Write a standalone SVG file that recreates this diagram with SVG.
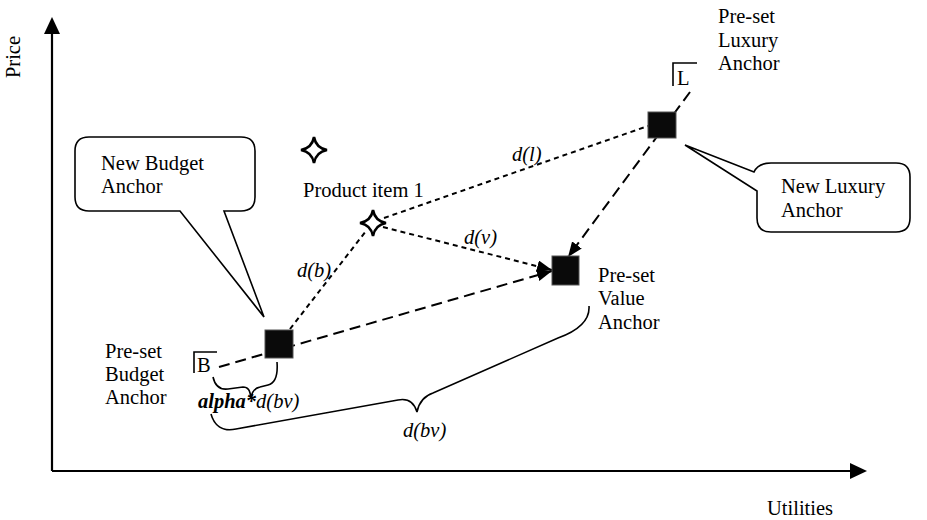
<svg xmlns="http://www.w3.org/2000/svg" width="927" height="520" viewBox="0 0 927 520">
<style>
text{font-family:"Liberation Serif","Times New Roman",serif;font-size:20.5px;fill:#000}
.it{font-style:italic}
.bi{font-style:italic;font-weight:bold}
.ax{stroke:#000;stroke-width:2.2;fill:none}
.long{stroke:#000;stroke-width:2;fill:none;stroke-dasharray:11 6}
.short{stroke:#000;stroke-width:2;fill:none;stroke-dasharray:5 4}
.thin{stroke:#000;stroke-width:1.6;fill:none}
.callout{stroke:#000;stroke-width:1.6;fill:#fff}
.anchor{fill:#0a0a0a;stroke:#555;stroke-width:1}
.star{fill:#fff;stroke:#000;stroke-width:2.6;stroke-linejoin:miter}
</style>
<defs>
<marker id="ah" markerUnits="userSpaceOnUse" markerWidth="16" markerHeight="12" refX="15" refY="6" orient="auto">
<path d="M0,0 L15,6 L0,12 z" fill="#000"/>
</marker>
<path id="starShape" d="M0,-13 Q2,-2 13,0 Q2,2 0,13 Q-2,2 -13,0 Q-2,-2 0,-13 Z"/>
</defs>

<g id="axes">
<line class="ax" x1="52" y1="471" x2="52" y2="32"/>
<polygon points="52,17 44,34 60,34" fill="#000"/>
<line class="ax" x1="52" y1="471" x2="851" y2="471"/>
<polygon points="867,471 850,463 850,479" fill="#000"/>
<text transform="translate(20,57) rotate(-90)" text-anchor="middle">Price</text>
<text x="767" y="515">Utilities</text>
</g>

<g id="connectors">
<path class="long" d="M219,367 L552,271" marker-end="url(#ah)"/>
<path class="long" d="M690,92 L568,257" marker-end="url(#ah)"/>
<path class="short" d="M290,329 L366,231"/>
<path class="short" d="M384,218 L648,126"/>
<path class="short" d="M383,227 L552,270" marker-end="url(#ah)"/>
<path class="thin" d="M213,377 C215,386 220,390 228,389 L243,387 C248,387 250,390 251,398 C252,391 255,388 260,387 L268,385 C276,383 278,375 277,362"/>
<path class="thin" d="M211,414 C214,425 222,432 236,429 L398,400 C408,398 414,402 417,412 C419,402 424,396 433,393 L558,338 C580,330 590,320 589,306"/>
<text class="it" x="297" y="277">d(b)</text>
<text class="it" x="512" y="161">d(l)</text>
<text class="it" x="464" y="244">d(v)</text>
<text x="198" y="408"><tspan class="bi">alpha*</tspan><tspan class="it">d(bv)</tspan></text>
<text class="it" x="403" y="437">d(bv)</text>
</g>

<g id="budget-anchor">
<rect class="anchor" x="265" y="330" width="28" height="28"/>
</g>
<g id="luxury-anchor">
<rect class="anchor" x="648" y="112" width="28" height="26"/>
</g>
<g id="value-anchor">
<rect class="anchor" x="552" y="256" width="27" height="29"/>
</g>

<g id="preset-budget">
<path class="thin" d="M194,373 L194,352 L217,352"/>
<text x="197" y="372">B</text>
<text x="105" y="358">Pre-set</text>
<text x="105" y="381">Budget</text>
<text x="105" y="404">Anchor</text>
</g>

<g id="preset-luxury">
<path class="thin" d="M673,86 L673,63 L697,63"/>
<text x="677" y="85">L</text>
<text x="718" y="23">Pre-set</text>
<text x="718" y="47">Luxury</text>
<text x="718" y="70">Anchor</text>
</g>

<g id="preset-value">
<text x="598" y="282">Pre-set</text>
<text x="598" y="305">Value</text>
<text x="598" y="329">Anchor</text>
</g>

<g id="star-top">
<use href="#starShape" class="star" transform="translate(314,150)"/>
</g>
<g id="product-item-1">
<use href="#starShape" class="star" transform="translate(373,223)"/>
<text x="303" y="197">Product item 1</text>
</g>

<g id="new-budget-callout">
<path class="callout" d="M89,137 L241,137 Q255,137 255,151 L255,197 Q255,211 241,211 L224,211 L264,317 L180,211 L89,211 Q75,211 75,197 L75,151 Q75,137 89,137 Z"/>
<text x="101" y="170">New Budget</text>
<text x="101" y="193">Anchor</text>
</g>

<g id="new-luxury-callout">
<path class="callout" d="M685,145 L754,172 Q758,163 771,163 L896,163 Q910,163 910,177 L910,218 Q910,232 896,232 L771,232 Q757,232 757,218 L757,191 Z"/>
<text x="781" y="193">New Luxury</text>
<text x="781" y="217">Anchor</text>
</g>
</svg>
